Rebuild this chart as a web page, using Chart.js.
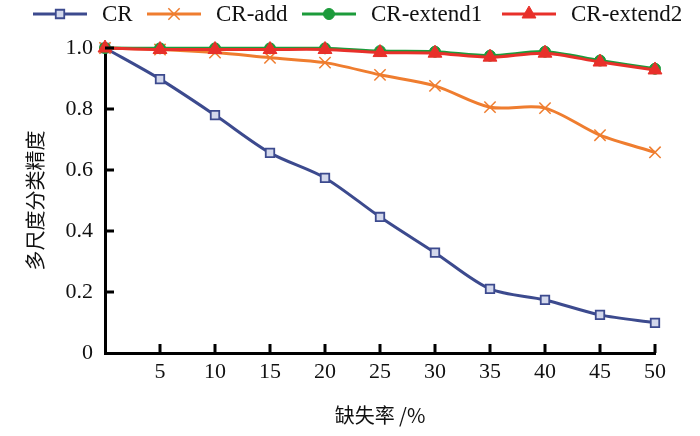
<!DOCTYPE html>
<html lang="zh">
<head>
<meta charset="utf-8">
<title>多尺度分类精度</title>
<script src="https://cdn.jsdelivr.net/npm/chart.js@4/dist/chart.umd.min.js"></script>
<style>
  html, body { margin: 0; padding: 0; background: #fff; }
  #wrap { width: 700px; height: 436px; position: relative; }
</style>
</head>
<body>
<div id="wrap"><canvas id="accChart"></canvas></div>
<script>
const missingRates = [0, 5, 10, 15, 20, 25, 30, 35, 40, 45, 50];
const crValues = [1.0, 0.898, 0.78, 0.656, 0.574, 0.446, 0.329, 0.21, 0.174, 0.125, 0.099];
const crAddValues = [1.0, 0.995, 0.985, 0.968, 0.952, 0.912, 0.876, 0.806, 0.803, 0.714, 0.658];
const crExtend1Values = [1.0, 0.999, 0.999, 0.999, 0.999, 0.99, 0.988, 0.975, 0.988, 0.959, 0.932];
const crExtend2Values = [1.0, 0.995, 0.995, 0.995, 0.995, 0.985, 0.983, 0.97, 0.983, 0.954, 0.928];
const seriesNames = ['CR', 'CR-add', 'CR-extend1', 'CR-extend2'];
const xTitle = '缺失率 /%';
const yTitle = '多尺度分类精度';

const toPoints = vals => vals.map((v, i) => ({ x: missingRates[i], y: v }));

const serif = "'Liberation Serif', 'DejaVu Serif', serif";
const cjk = "'Noto Sans CJK SC', 'Noto Sans', sans-serif";

const datasets = [
  {
    label: seriesNames[0], data: toPoints(crValues),
    borderColor: '#3c4a8e', backgroundColor: '#d3d8ec',
    pointStyle: 'rect', pointRadius: 6, pointBorderWidth: 1.8, order: 3
  },
  {
    label: seriesNames[1], data: toPoints(crAddValues),
    borderColor: '#ef7d2f', backgroundColor: '#ef7d2f',
    pointStyle: 'crossRot', pointRadius: 8, pointBorderWidth: 1.5, order: 2
  },
  {
    label: seriesNames[2], data: toPoints(crExtend1Values),
    borderColor: '#1c9b3b', backgroundColor: '#1c9b3b',
    pointStyle: 'circle', pointRadius: 5.5, pointBorderWidth: 1, order: 1
  },
  {
    label: seriesNames[3], data: toPoints(crExtend2Values),
    borderColor: '#e8302a', backgroundColor: '#e8302a',
    pointStyle: 'triangle', pointRadius: 8, pointBorderWidth: 1, order: 0
  }
].map(d => Object.assign({ borderWidth: 3, tension: 0.3, clip: false, fill: false }, d));

// legend drawn by hand: line + marker, then label
const legendPlugin = {
  id: 'lineLegend',
  afterDraw(chart) {
    const ctx = chart.ctx;
    const starts = [33, 147, 302, 502];
    const y = 14;
    ctx.save();
    chart.data.datasets.forEach((ds, i) => {
      const x0 = starts[i];
      ctx.strokeStyle = ds.borderColor;
      ctx.lineWidth = 3;
      ctx.beginPath();
      ctx.moveTo(x0, y);
      ctx.lineTo(x0 + 54, y);
      ctx.stroke();
      ctx.fillStyle = ds.backgroundColor;
      ctx.lineWidth = ds.pointBorderWidth;
      Chart.helpers.drawPoint(ctx, { pointStyle: ds.pointStyle, radius: ds.pointRadius, borderWidth: ds.pointBorderWidth, rotation: 0 }, x0 + 27, y);
      ctx.fillStyle = '#111';
      ctx.font = '23px ' + serif;
      ctx.textBaseline = 'middle';
      ctx.textAlign = 'left';
      ctx.fillText(ds.label, x0 + 69, y + 1);
    });
    ctx.restore();
  }
};

// tick marks pointing into the plot
const innerTicks = {
  id: 'innerTicks',
  afterDatasetsDraw(chart) {
    const { ctx, chartArea, scales } = chart;
    ctx.save();
    ctx.strokeStyle = '#000';
    ctx.lineWidth = 3;
    scales.y.ticks.forEach(t => {
      if (t.value === 0) return;
      const py = scales.y.getPixelForValue(t.value);
      ctx.beginPath();
      ctx.moveTo(chartArea.left, py);
      ctx.lineTo(chartArea.left + 9, py);
      ctx.stroke();
    });
    scales.x.ticks.forEach(t => {
      if (t.value === 0) return;
      const px = scales.x.getPixelForValue(t.value);
      ctx.beginPath();
      ctx.moveTo(px, chartArea.bottom);
      ctx.lineTo(px, chartArea.bottom - 9);
      ctx.stroke();
    });
    ctx.restore();
  }
};

new Chart(document.getElementById('accChart'), {
  type: 'line',
  data: { datasets },
  plugins: [legendPlugin, innerTicks],
  options: {
    responsive: true,
    maintainAspectRatio: false,
    animation: false,
    layout: { padding: { top: 48, right: 45, left: 0, bottom: 0 } },
    plugins: { legend: { display: false }, tooltip: { enabled: false } },
    scales: {
      x: {
        type: 'linear', min: 0, max: 50,
        afterFit: s => { s.height = 83; },
        grid: { display: false, drawTicks: false },
        border: { display: true, color: '#000', width: 3 },
        ticks: {
          stepSize: 5, padding: 6, color: '#111',
          font: { family: serif, size: 22 },
          callback: v => v === 0 ? '' : v
        },
        title: { display: true, text: xTitle, color: '#111', font: { family: cjk, size: 20 }, padding: { top: 0, bottom: 9 } }
      },
      y: {
        min: 0, max: 1,
        afterFit: s => { s.width = 105; },
        grid: { display: false, drawTicks: false },
        border: { display: true, color: '#000', width: 3 },
        ticks: {
          stepSize: 0.2, padding: 12, color: '#111',
          font: { family: serif, size: 22 },
          callback: v => v === 0 ? '0' : v.toFixed(1)
        },
        title: { display: true, text: yTitle, color: '#111', font: { family: cjk, size: 20 }, padding: { top: 23, bottom: 0 } }
      }
    }
  }
});
</script>
</body>
</html>
